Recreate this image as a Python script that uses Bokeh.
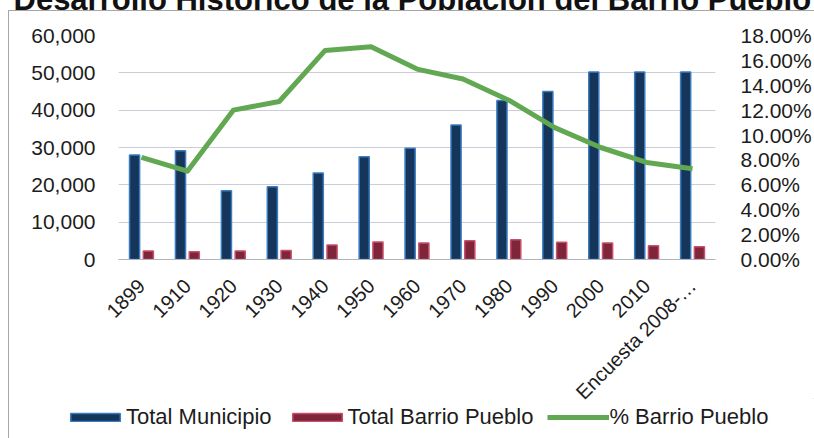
from math import pi
from bokeh.plotting import figure
from bokeh.models import (FactorRange, Range1d, LinearAxis, NumeralTickFormatter, FixedTicker,
                          Legend, LegendItem, ColumnDataSource)
from bokeh.transform import dodge
from bokeh.embed import file_html
from bokeh.resources import INLINE

# ---- data ----
categories = ["1899", "1910", "1920", "1930", "1940", "1950", "1960", "1970",
              "1980", "1990", "2000", "2010", "Encuesta 2008-\u2026"]
total_municipio = [28000, 29100, 18400, 19500, 23200, 27500, 29800, 36000,
                   42600, 45000, 50200, 50200, 50200]
total_barrio = [2300, 2100, 2300, 2400, 3900, 4700, 4400, 5000,
                5300, 4600, 4400, 3700, 3400]
pct_barrio = [0.082, 0.071, 0.120, 0.127, 0.168, 0.171, 0.153, 0.145,
              0.128, 0.106, 0.090, 0.078, 0.073]
left_ticks = [0, 10000, 20000, 30000, 40000, 50000, 60000]
right_ticks = [0.0, 0.02, 0.04, 0.06, 0.08, 0.10, 0.12, 0.14, 0.16, 0.18]
series_names = ["Total Municipio", "Total Barrio Pueblo", "% Barrio Pueblo"]
title_text = "Desarrollo Hist\u00f3rico de la Poblaci\u00f3n del Barrio Pueblo"

source = ColumnDataSource(data=dict(cat=categories, mun=total_municipio,
                                    bar=total_barrio, pct=pct_barrio))

FONT = "Liberation Sans"
TXT = "#1c1c1c"
BLUE_FILL, BLUE_LINE = "#16355a", "#3a7cc2"
RED_FILL, RED_LINE = "#7e2539", "#c94f6c"
GREEN = "#62a852"
SHIFT = 40  # canvas starts above the window so the title is cut like the scan

frame_css = ("linear-gradient(#a6a6a6,#a6a6a6) 8px 50px / 1px 100% no-repeat, "
             "linear-gradient(#a6a6a6,#a6a6a6) 8px 50px / 100% 1px no-repeat, white")

p = figure(frame_width=597, frame_height=224, output_backend="svg", toolbar_location=None,
           x_range=FactorRange(*categories, range_padding=0),
           y_range=Range1d(0, 60000),
           min_border_left=118, min_border_right=99, min_border_top=35 + SHIFT,
           min_border_bottom=150,
           styles={"position": "absolute", "top": "-%dpx" % SHIFT, "left": "0px",
                   "background": frame_css})
p.outline_line_color = None
p.background_fill_color = "white"
p.border_fill_color = None

p.title.text = title_text
p.title.align = "left"
p.title.offset = -105
p.title.standoff = 37
p.title.text_font = FONT
p.title.text_font_size = "31px"
p.title.text_font_style = "bold"
p.title.text_color = "#111111"

p.extra_y_ranges = {"pct": Range1d(0, 0.18)}

p.vbar(x=dodge("cat", -0.15, range=p.x_range), top="mun", width=0.22,
       source=source, fill_color=BLUE_FILL, line_color=BLUE_LINE, line_width=1.5)
p.vbar(x=dodge("cat", 0.15, range=p.x_range), top="bar", width=0.22,
       source=source, fill_color=RED_FILL, line_color=RED_LINE, line_width=1.5)
p.line(x="cat", y="pct", source=source, y_range_name="pct",
       line_color=GREEN, line_width=5, line_join="round")

# axes
yax = p.yaxis[0]
yax.ticker = FixedTicker(ticks=left_ticks)
yax.formatter = NumeralTickFormatter(format="0,0")
ax_r = LinearAxis(y_range_name="pct", ticker=FixedTicker(ticks=right_ticks),
                  formatter=NumeralTickFormatter(format="0.00%"))
p.add_layout(ax_r, "right")
for ax in (yax, ax_r):
    ax.axis_line_color = None
    ax.major_tick_line_color = None
    ax.minor_tick_line_color = None
    ax.major_tick_out = 0
    ax.major_tick_in = 0
    ax.major_label_text_font = FONT
    ax.major_label_text_font_size = "21px"
    ax.major_label_text_color = TXT
yax.major_label_standoff = 23
ax_r.major_label_standoff = 25

xax = p.xaxis[0]
xax.axis_line_color = "#b0b4bc"
xax.major_tick_line_color = None
xax.major_tick_out = 0
xax.major_label_orientation = pi / 4
xax.major_label_text_font = FONT
xax.major_label_text_font_size = "20px"
xax.major_label_text_color = TXT
xax.major_label_standoff = 23

p.xgrid.grid_line_color = None
p.ygrid.grid_line_color = "#c9ced8"
p.ygrid.grid_line_width = 1

# ---- legend strip: a second, transparent svg figure laid over the bottom ----
strip_css = "linear-gradient(#a6a6a6,#a6a6a6) 8px 0px / 1px 100% no-repeat"
lg = figure(width=814, height=40, output_backend="svg", toolbar_location=None,
            x_axis_type=None, y_axis_type=None,
            x_range=Range1d(0, 1), y_range=Range1d(0, 1),
            min_border=0, min_border_left=0, min_border_right=0,
            min_border_top=0, min_border_bottom=0,
            styles={"position": "absolute", "top": "398px", "left": "0px",
                    "background": strip_css})
lg.outline_line_color = None
lg.background_fill_color = None
lg.border_fill_color = None

# legend-only renderers: one point each, placed outside the strip's visible range
r_blue = lg.vbar(x=[5], top=[6], bottom=[5], width=0.1, fill_color=BLUE_FILL,
                 line_color=BLUE_LINE, line_width=1.5)
r_red = lg.vbar(x=[5], top=[6], bottom=[5], width=0.1, fill_color=RED_FILL,
                line_color=RED_LINE, line_width=1.5)
r_green = lg.line(x=[5, 6], y=[5, 5], line_color=GREEN, line_width=5)

legend = Legend(items=[LegendItem(label=series_names[0], renderers=[r_blue]),
                       LegendItem(label=series_names[1], renderers=[r_red]),
                       LegendItem(label=series_names[2], renderers=[r_green])],
                location=(64, 8), orientation="horizontal",
                glyph_width=62, glyph_height=10, label_standoff=0, spacing=14,
                padding=0, margin=0, border_line_color=None, background_fill_alpha=0,
                label_text_font=FONT, label_text_font_size="22px", label_text_color=TXT)
lg.add_layout(legend)

open("out.html", "w").write(file_html([p, lg], INLINE))
